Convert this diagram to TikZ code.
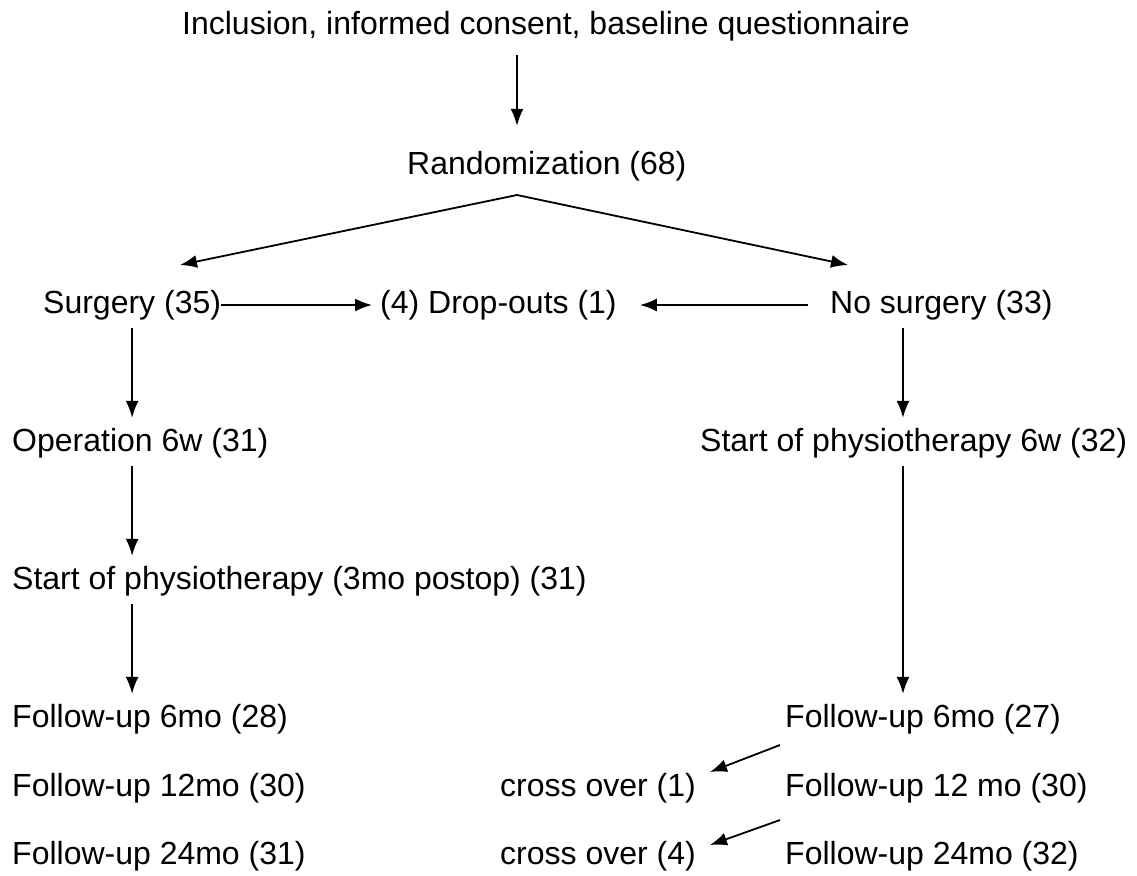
\documentclass[tikz,border=0pt]{standalone}
\usepackage{fontspec}
\setmainfont{Liberation Sans}
\usetikzlibrary{arrows.meta}
\begin{document}
\begin{tikzpicture}[x=1pt,y=-1pt,
	lbl/.style={inner sep=0pt,anchor=base west,text height=23pt,text depth=7pt,font=\fontsize{32}{36}\selectfont},
	arr/.style={-{Latex[length=17pt,width=13pt]},line width=1.8pt}]
	\useasboundingbox (0,0) rectangle (1137,875);
	% top
	\node [lbl] (incl) at (182,35) {Inclusion, informed consent, baseline questionnaire};
	\node [lbl] (rand) at (407,174) {Randomization (68)};
	% groups
	\node [lbl] (surg) at (43,313) {Surgery (35)};
	\node [lbl] (drop) at (380,313) {(4) Drop-outs (1)};
	\node [lbl] (nosurg) at (830,313) {No surgery (33)};
	% surgery arm
	\node [lbl] (oper) at (12,451) {Operation 6w (31)};
	\node [lbl] (physa) at (12,589) {Start of physiotherapy (3mo postop) (31)};
	\node [lbl] (fua) at (12,727) {Follow-up 6mo (28)};
	\node [lbl] (fub) at (12,796) {Follow-up 12mo (30)};
	\node [lbl] (fuc) at (12,864) {Follow-up 24mo (31)};
	% no surgery arm
	\node [lbl] (physb) at (700,451) {Start of physiotherapy 6w (32)};
	\node [lbl] (fud) at (785,727) {Follow-up 6mo (27)};
	\node [lbl] (fue) at (785,796) {Follow-up 12 mo (30)};
	\node [lbl] (fuf) at (785,864) {Follow-up 24mo (32)};
	\node [lbl] (crossa) at (500,796) {cross over (1)};
	\node [lbl] (crossb) at (500,864) {cross over (4)};
	% arrow ends
	\coordinate (split) at (517,195);
	\coordinate (toleft) at (180,265);
	\coordinate (toright) at (848,265);
	\coordinate (ca) at (780,745);
	\coordinate (cb) at (780,820);
	\coordinate (tipa) at (710,772);
	\coordinate (tipb) at (710,845);
	% arrows
	\draw [arr,shorten <=13pt,shorten >=25pt] (split |- incl.south) -- (split |- rand.north);
	\draw [arr] (split) -- (toleft);
	\draw [arr] (split) -- (toright);
	\draw [arr,shorten >=8pt] (surg.east) -- (drop.west);
	\draw [arr,shorten <=22pt,shorten >=23pt] (nosurg.west) -- (drop.east);
	\draw [arr,shorten <=8pt,shorten >=10pt] (surg.south) -- (surg.south |- oper.north);
	\draw [arr,shorten <=8pt,shorten >=10pt] (surg.south |- oper.south) -- (surg.south |- physa.north);
	\draw [arr,shorten <=8pt,shorten >=10pt] (surg.south |- physa.south) -- (surg.south |- fua.north);
	\draw [arr,shorten <=8pt,shorten >=10pt] (nosurg.south -| 903,0) -- (903,0 |- physb.north);
	\draw [arr,shorten <=8pt,shorten >=10pt] (physb.south -| 903,0) -- (903,0 |- fud.north);
	\draw [arr] (ca) -- (tipa);
	\draw [arr] (cb) -- (tipb);
\end{tikzpicture}
\end{document}
